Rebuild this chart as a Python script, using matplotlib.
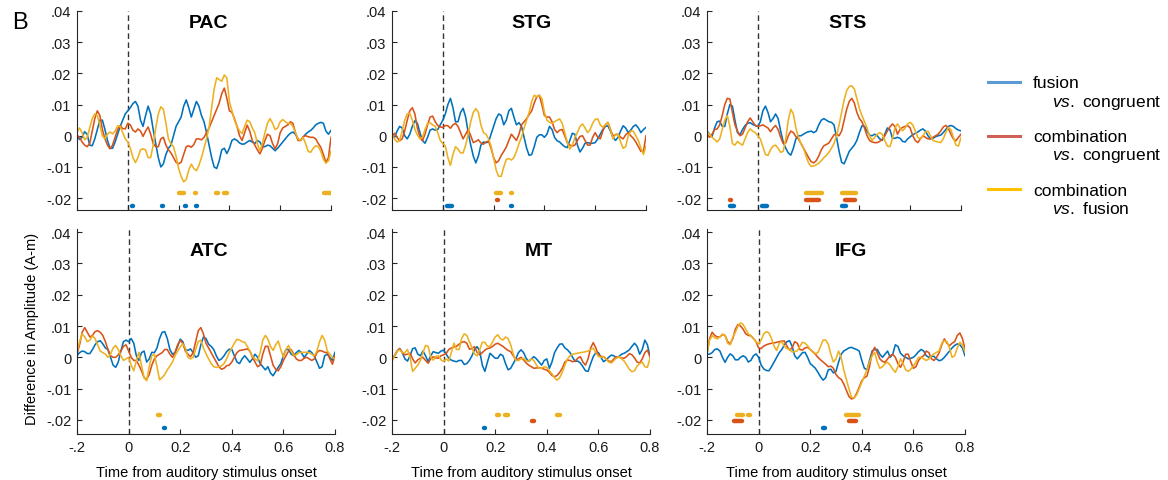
"""
plot.py

Differenze di ampiezza tra condizioni nelle sei ROI (PAC, STG, STS, ATC, MT, IFG).
"""

import numpy as np
import matplotlib

matplotlib.use("Agg")
import matplotlib.pyplot as plt
from matplotlib.legend_handler import HandlerLine2D
from matplotlib.lines import Line2D

plt.rcParams["font.family"] = ["Liberation Sans", "DejaVu Sans"]
plt.rcParams["mathtext.fontset"] = "custom"
plt.rcParams["mathtext.it"] = "Liberation Sans:italic"
plt.rcParams["mathtext.rm"] = "Liberation Sans"

# asse dei tempi: un campione ogni 10 ms, da -0.2 a 0.8 s
time = np.linspace(-0.2, 0.8, 101)
SCALE = 1e-3  # i valori sotto sono in 10^-3 A-m

regions = ["PAC", "STG", "STS", "ATC", "MT", "IFG"]

# --- fusion vs. congruent (blu) ---
pac_fus = [0, -1.2, -0.5, 1.3, 0.5, -3.0, -3.2, -1.0, 2.0, 5.0,
           5.0, 2.0, -1.5, -4.0, -4.0, -2.0, 0.5, 3.0, 5.0, 7.0,
           8.0, 9.0, 10.3, 11.0, 9.5, 5.0, 3.0, 6.5, 9.5, 7.0,
           2.0, -2.5, -7.0, -10.0, -9.0, -6.0, -4.0, -3.0, 0.0, 3.0,
           4.5, 6.0, 9.5, 11.5, 9.0, 6.0, 8.5, 11.0, 9.5, 6.5,
           4.5, 1.0, -3.0, -7.0, -10.0, -10.5, -8.0, -4.5, -4.0, -5.7,
           -4.0, -1.5, -1.0, -1.5, -2.3, -2.7, -2.6, -2.0, -1.5, -2.0,
           -2.5, -1.5, -2.0, -3.5, -3.5, -3.0, -3.2, -4.0, -4.8, -4.0,
           -3.0, -2.0, -1.0, 0.0, 0.8, 1.2, 0.5, -1.0, -1.5, -0.5,
           0.5, 1.2, 1.7, 2.5, 3.5, 4.0, 4.3, 4.0, 1.5, 0.5,
           1.7]
stg_fus = [0, -0.5, 1.5, 3.0, 2.5, 0.0, -1.0, 0.5, 3.0, 4.8,
           4.0, 1.0, -1.5, -2.4, -0.5, 1.8, 2.2, 1.8, 2.0, 3.5,
           5.0, 7.0, 10.0, 12.0, 9.0, 4.5, 4.5, 7.5, 8.8, 6.0,
           1.0, -3.0, -6.5, -8.7, -6.5, -3.0, -2.0, -2.2, -2.0, 0.5,
           3.0, 5.5, 7.0, 6.5, 3.5, 5.0, 8.0, 8.8, 6.0, 3.5,
           4.2, 3.0, -0.5, -4.0, -6.3, -6.0, -3.5, -0.5, 0.3, 0.3,
           -0.5, 0.5, 3.0, 2.0, -0.5, -1.6, -2.0, -2.8, -3.5, -3.8,
           -1.5, 0.8, 0.5, -3.0, -5.2, -4.0, -2.4, -2.2, -2.4, -2.4,
           -2.2, -1.0, 0.5, 2.0, 3.0, 3.2, 1.5, -0.5, -1.5, -0.5,
           1.5, 3.2, 2.5, 1.0, 1.8, 3.0, 3.5, 2.5, 1.0, 2.0,
           2.7]
sts_fus = [1.6, 0.5, -0.2, 2.5, 4.5, 4.7, 3.0, 3.0, 7.0, 10.0,
           9.5, 5.0, 1.0, 0.3, 2.0, 3.3, 4.0, 4.2, 3.6, 3.3,
           3.0, 4.5, 8.0, 9.5, 7.5, 4.5, 5.5, 7.0, 5.5, 1.5,
           -2.0, -4.0, -5.5, -6.2, -4.0, -1.0, 0.0, 0.0, 0.5, 1.0,
           1.3, 1.5, 1.0, 1.5, 3.5, 5.0, 5.5, 5.0, 4.5, 4.3,
           3.5, -0.5, -5.0, -8.5, -9.0, -7.0, -5.0, -4.0, -3.0, -1.5,
           1.0, 3.2, 3.0, 1.5, 0.2, 0.0, 0.5, 0.0, -1.0, -1.5,
           0.5, 2.5, 2.0, -0.8, -0.8, -0.5, -0.8, -1.8, -2.0, -1.0,
           -0.3, 0.3, 0.8, 1.2, 1.8, 2.2, 1.5, 0.0, -1.0, -0.8,
           -0.3, 0.0, 0.2, 1.0, 2.0, 3.0, 3.3, 3.0, 2.3, 1.8,
           1.6]
atc_fus = [0.5, 1.5, 2.0, 1.8, 1.2, 1.2, 2.5, 4.0, 5.0, 5.3,
           4.3, 3.0, 2.5, 0.0, -2.5, -3.2, -1.5, 2.0, 5.0, 5.5,
           5.0, 6.0, 4.5, 0.5, -1.0, 1.5, 2.0, -1.5, -0.5, 1.6,
           1.5, 3.0, 6.0, 8.0, 8.2, 6.0, 2.5, 1.0, 1.5, 3.5,
           5.8, 5.0, 2.5, 2.2, 2.7, 1.5, 0.0, 0.5, 4.0, 6.5,
           6.0, 4.2, 3.5, 2.5, 0.5, -1.0, -0.5, 0.5, 1.8, 2.6,
           2.5, 0.5, -1.5, -2.0, -0.5, 0.5, -0.5, -1.6, -0.5, 1.0,
           0.0, -2.0, -3.0, -4.0, -3.0, -5.0, -5.9, -4.5, -3.2, -2.0,
           0.5, 2.5, 2.5, 1.0, 0.5, 1.5, 2.2, 1.5, 0.0, 1.0,
           2.2, 1.5, 0.3, -1.5, -3.5, -3.0, 0.5, 1.0, 0.0, -1.0,
           1.6]
mt_fus = [-0.3, 0.5, 2.0, 2.8, 1.5, -0.5, -1.2, 0.5, 2.8, 3.0,
          1.0, 0.5, 2.0, 0.5, -1.4, 0.5, 1.8, 1.5, 1.3, 2.0,
          2.3, 1.0, -0.3, -0.9, -1.2, -1.4, -1.0, -1.0, -2.3, -2.0,
          -1.0, 0.5, 2.5, 3.4, 2.0, -2.5, -4.5, -1.5, 1.3, 0.5,
          -0.3, -0.3, 1.0, 0.5, -2.0, -4.0, -3.5, -2.0, -0.5, 1.5,
          2.4, 1.5, -0.3, -1.3, -0.5, 0.2, -0.5, -1.5, -2.5, -1.0,
          -0.5, -3.5, -1.5, 1.5, 3.0, 4.2, 4.3, 3.0, 2.4, 1.5,
          0.0, -1.3, -1.2, -1.8, -3.0, -4.3, -4.5, -2.0, 0.2, 1.5,
          1.5, 0.0, -1.4, -0.8, 0.0, 0.7, 0.5, -0.2, 0.3, 1.0,
          1.3, 1.8, 2.4, 3.5, 4.5, 3.5, 1.0, 2.5, 5.5, 4.0,
          0.2]
ifg_fus = [1.0, 1.0, 1.5, 2.5, 2.7, 2.0, 0.0, -1.6, 0.0, 1.1,
           0.5, -0.8, -0.8, 0.0, 0.5, 0.0, -1.5, -1.0, 0.5, 1.1,
           0.0, -2.5, -3.7, -4.2, -4.3, -3.0, -1.5, 0.0, 1.5, 2.5,
           4.0, 5.0, 5.3, 3.5, 0.5, -0.5, 0.5, 1.5, 1.6, 0.0,
           -2.0, -2.7, -3.5, -4.8, -6.2, -7.3, -6.5, -4.0, -3.8, -5.0,
           -4.5, -1.5, 1.0, 2.0, 2.5, 3.0, 3.2, 2.8, 2.5, 2.0,
           -1.0, -3.5, -4.0, -1.0, 2.0, 2.5, 2.5, 1.0, 0.0, 1.0,
           2.0, 0.0, 1.0, 4.0, 3.5, 1.3, 0.5, 0.0, -0.5, -0.3,
           0.0, 0.8, 1.8, 2.5, 2.0, 0.5, 0.0, 0.3, 0.3, -0.5,
           -1.1, -0.8, 0.0, 1.0, 2.0, 3.0, 3.8, 4.3, 4.0, 3.0,
           0.5]

# --- combination vs. congruent (rosso) ---
pac_comb_cong = [0.2, -0.5, -2.0, -3.0, -3.5, -2.5, 1.5, 5.5, 8.0, 6.5,
                 2.0, -1.0, -3.0, -4.2, -3.0, -0.5, 2.0, 3.3, 2.3, 2.2,
                 4.0, 3.5, 1.8, 1.2, 2.2, 1.5, -0.2, 1.5, 2.8, 0.5,
                 -2.5, -3.5, -3.5, -1.0, -0.5, -3.0, -4.5, -5.5, -7.0, -8.5,
                 -9.0, -8.5, -6.0, -3.5, -3.2, -3.7, -2.8, -1.0, -1.0, -1.3,
                 -0.5, 1.0, 2.5, 4.5, 6.5, 8.5, 10.5, 13.5, 15.3, 12.0,
                 8.0, 7.5, 5.5, 3.0, 0.0, -1.5, 1.0, 3.4, 1.5, -1.5,
                 -3.0, -4.5, -5.8, -4.0, -1.5, 0.5, 0.0, -2.5, -4.2, -2.5,
                 1.0, 2.5, 3.0, 3.5, 4.5, 4.0, 1.0, -1.5, -1.5, -0.3,
                 0.0, -0.3, -0.5, -0.5, -1.0, -2.5, -3.7, -6.0, -8.5, -7.0,
                 -0.5]
stg_comb_cong = [-0.2, 0.8, -0.5, -1.6, -1.0, 1.5, 5.0, 8.0, 9.0, 7.0,
                 2.5, -0.5, -1.6, 0.5, 3.5, 6.0, 6.3, 4.5, 3.3, 2.8,
                 2.7, 3.3, 3.2, 2.4, 3.5, 4.0, 3.0, 1.0, -1.0, 0.5,
                 2.0, 0.0, -2.2, -1.8, -1.3, -2.3, -2.7, -2.0, -1.7, -4.0,
                 -7.0, -8.7, -8.0, -6.3, -5.0, -3.6, -1.5, 0.5, -0.5, -1.5,
                 0.5, 3.5, 4.5, 5.5, 6.8, 8.0, 10.5, 12.5, 13.0, 10.0,
                 6.5, 6.0, 6.0, 4.5, 2.0, 1.0, 1.8, 2.0, 0.0, -2.2,
                 -3.0, -3.3, -3.0, -1.5, -0.2, 0.0, -1.5, -3.0, -3.0, -0.5,
                 1.0, -0.5, -1.0, 1.5, 3.5, 4.3, 2.0, 0.0, 0.3, 0.5,
                 -0.5, -1.0, 0.3, 1.0, 0.0, -0.8, -2.0, -3.5, -5.0, -5.0,
                 0.0]
sts_comb_cong = [0.5, -0.5, 0.5, 2.0, 2.2, 3.5, 6.5, 10.0, 12.0, 11.8,
                 7.5, 3.5, 1.5, 0.0, 0.5, 2.5, 4.5, 5.7, 4.5, 3.3,
                 3.0, 3.2, 3.5, 3.0, 2.5, 1.3, 2.5, 3.3, 2.0, -0.5,
                 -2.5, -2.3, 0.0, 1.5, 1.0, -0.3, -1.0, -2.5, -4.0, -5.5,
                 -7.0, -8.3, -8.7, -8.0, -6.5, -4.5, -3.2, -2.8, -2.3, -1.0,
                 0.3, 0.5, 0.0, 1.5, 5.0, 8.5, 11.0, 12.0, 10.5, 7.5,
                 5.5, 4.5, 2.5, 0.0, -1.5, -2.0, -2.2, -2.2, -1.8, -1.1,
                 0.0, 1.5, 2.8, 3.8, 3.0, 0.5, 2.0, 2.7, 3.0, 3.3,
                 2.5, 0.0, -1.5, -2.2, -1.0, 0.0, -0.5, -1.0, -1.0, -0.5,
                 0.0, 0.5, 1.5, 2.8, 3.3, 2.5, 0.5, -1.0, -1.6, -0.5,
                 0.5]
atc_comb_cong = [1.0, 4.0, 8.0, 9.5, 8.0, 6.5, 7.0, 8.2, 8.5, 8.0,
                 7.0, 5.0, 2.5, 0.5, 0.0, 0.0, 0.8, 2.0, 3.5, 4.0,
                 2.0, 0.0, -1.0, -1.0, -2.5, -4.3, -6.5, -7.0, -5.5, -2.5,
                 -0.5, 0.5, 1.0, 1.5, 2.5, 2.5, 1.0, 0.0, 1.5, 4.0,
                 5.4, 4.5, 2.0, 1.0, 0.2, 1.5, 5.0, 8.5, 9.5, 7.5,
                 4.5, 3.0, 1.5, 0.0, -1.5, -3.0, -3.8, -3.5, -2.7, -2.5,
                 -1.5, 0.0, 1.5, 2.2, 2.3, 2.5, 2.7, 2.0, 0.0, -1.5,
                 -3.0, -2.5, 1.0, 3.5, 3.5, 0.5, -2.5, -3.8, -4.3, -3.0,
                 -1.0, 0.5, 2.0, 2.5, 1.0, -0.5, -1.0, -1.0, -0.3, 0.0,
                 -0.5, -1.0, -0.5, 1.5, 2.2, 2.0, 1.6, 1.5, -0.5, -2.2,
                 0.5]
mt_comb_cong = [-0.9, 0.5, 2.0, 2.8, 1.5, 0.8, 1.0, 1.3, -0.5, -1.8,
                -0.8, -0.3, 0.0, -1.0, -1.9, -0.5, 0.2, -0.2, -0.3, 0.5,
                0.8, 1.2, 2.5, 3.0, 3.3, 3.5, 4.2, 4.8, 5.0, 4.5,
                2.6, 2.8, 3.4, 1.5, 0.8, 1.5, 2.3, 2.8, 3.0, 3.5,
                4.2, 4.5, 4.0, 3.5, 2.8, 2.2, 1.8, 0.5, -0.8, -0.5,
                0.0, -0.8, -1.8, -2.5, -3.0, -3.5, -3.4, -3.3, -3.5, -3.8,
                -4.1, -4.8, -5.8, -6.2, -5.8, -4.8, -3.5, -1.5, -0.9, -1.0,
                -1.4, -1.2, -0.3, 0.2, -1.5, -2.5, -0.5, 3.0, 4.7, 3.0,
                0.8, 0.3, 0.2, -0.5, -1.2, -1.4, -0.5, 0.2, 0.0, -0.2,
                -0.3, 0.3, 1.2, 0.8, -0.2, -1.5, -1.8, -0.5, 1.5, 2.3,
                0.2]
ifg_comb_cong = [1.0, 6.0, 8.0, 7.0, 6.5, 6.5, 7.3, 7.0, 5.0, 4.3,
                 6.0, 9.0, 10.5, 10.0, 9.0, 7.5, 7.0, 6.9, 6.0, 5.0,
                 3.0, 2.8, 3.6, 4.0, 4.3, 4.5, 4.6, 4.8, 5.0, 5.2,
                 5.2, 3.5, 2.3, 3.0, 5.0, 4.5, 2.5, 2.3, 3.0, 3.2,
                 2.5, 1.8, 1.0, 0.0, -0.8, -1.5, -2.2, -3.0, -2.8, -3.5,
                 -5.5, -6.5, -7.0, -8.5, -10.5, -12.5, -13.3, -13.0, -11.5, -9.5,
                 -7.5, -6.5, -6.0, -3.0, 1.5, 3.2, 1.5, -0.5, -1.3, -1.6,
                 -0.5, 0.5, 1.0, 0.0, -2.0, -3.2, -1.5, 1.0, 1.0, -1.5,
                 -3.5, -3.0, -1.0, 0.0, 0.5, 2.0, 1.5, -0.5, -1.0, 0.0,
                 1.5, 4.0, 5.9, 4.5, 3.7, 4.5, 5.0, 7.0, 7.8, 6.0,
                 2.7]

# --- combination vs. fusion (giallo) ---
pac_comb_fus = [1.2, 2.5, 1.0, -1.3, -0.5, 2.5, 5.5, 7.0, 6.5, 3.5,
                0.0, -1.0, 0.5, 1.2, 0.6, 1.5, 3.2, 3.0, 1.0, -1.0,
                -2.0, -4.0, -7.0, -8.6, -7.0, -4.5, -4.2, -4.5, -7.0, -7.0,
                -3.0, 2.5, 7.0, 9.3, 8.5, 4.0, -1.0, -2.6, -3.5, -6.5,
                -10.5, -13.0, -14.8, -14.0, -11.0, -9.1, -10.5, -11.2, -9.5, -7.0,
                -4.0, -1.0, 2.8, 9.0, 15.0, 18.6, 18.0, 17.5, 19.5, 18.5,
                11.0, 8.0, 5.0, 3.0, 1.5, 0.7, 3.0, 5.0, 4.5, 2.5,
                1.0, -2.5, -4.8, -2.5, 1.0, 4.0, 5.5, 4.0, 2.0, 2.5,
                4.5, 5.2, 4.5, 4.0, 4.0, 3.0, 1.0, -1.0, -1.5, -0.5,
                -2.5, -5.0, -5.3, -4.0, -3.2, -3.5, -5.0, -7.5, -8.8, -8.0,
                -5.0]
stg_comb_fus = [0.5, -1.0, -2.0, -1.5, 1.5, 5.0, 7.0, 7.2, 5.0, 2.0,
                0.3, -1.0, -0.5, 2.0, 4.0, 4.2, 3.5, 3.0, 1.0, -1.5,
                -2.5, -3.3, -7.0, -9.5, -6.0, -3.5, -4.3, -5.5, -5.5, -3.0,
                0.5, 4.5, 7.5, 8.7, 7.5, 3.5, 1.0, 0.5, -1.0, -3.3,
                -7.0, -11.0, -13.0, -13.0, -10.0, -7.6, -7.3, -7.8, -7.0, -5.0,
                -2.5, -0.5, 2.5, 5.0, 7.5, 11.0, 13.0, 12.5, 13.0, 12.0,
                7.5, 5.0, 4.3, 4.0, 4.5, 5.0, 5.4, 4.0, 1.0, -2.0,
                -4.3, -3.0, -0.5, 1.0, 3.0, 3.8, 2.5, 1.0, 2.0, 4.0,
                5.3, 5.4, 3.5, 2.7, 3.5, 4.3, 2.0, -1.0, 0.5, 0.5,
                -2.0, -4.0, -3.5, 0.0, 1.5, 1.5, 0.0, -1.5, -4.0, -6.0,
                -3.3]
sts_comb_fus = [1.3, 0.5, -0.5, -1.2, -2.0, -1.0, 2.0, 5.0, 6.5, 3.0,
                -2.5, -3.0, -1.8, -2.5, -3.0, -1.0, 1.0, 2.2, 1.5, 1.0,
                0.0, -1.0, -3.5, -6.0, -6.3, -4.5, -3.3, -3.0, -4.0, -5.3,
                -5.0, -1.0, 5.0, 8.5, 7.0, 2.5, -0.5, -2.5, -4.0, -6.5,
                -8.8, -9.8, -9.7, -9.3, -8.8, -8.0, -7.0, -6.3, -5.3, -4.0,
                -2.5, 0.0, 3.5, 7.5, 11.5, 14.5, 15.8, 16.0, 15.0, 12.0,
                8.7, 6.5, 4.5, 2.5, 0.0, -1.5, -0.5, 0.5, 1.0, 0.5,
                -1.5, -3.3, -3.5, -1.0, 2.5, 3.8, 2.5, 1.6, 2.5, 3.8,
                4.3, 3.5, 1.5, -0.5, -1.0, 0.0, 1.2, 1.5, 0.0, -1.5,
                -1.8, -2.0, -2.2, -1.0, 1.0, 2.7, 2.0, -0.5, -3.0, -3.3,
                -0.5]
atc_comb_fus = [1.6, 5.0, 7.5, 6.5, 5.0, 5.5, 6.8, 6.0, 4.0, 2.0,
                1.5, 1.0, 0.0, 1.0, 3.0, 3.8, 2.5, 0.5, -1.0, -0.5,
                0.0, -2.5, -4.3, -1.0, 1.6, -2.5, -6.5, -7.5, -3.0, 0.5,
                1.0, -3.0, -7.2, -6.5, -5.5, -4.0, -2.8, -1.5, 0.5, 2.0,
                3.3, 4.3, 3.0, 0.0, -0.5, 0.0, 2.5, 5.0, 5.5, 3.0,
                1.2, -0.5, -2.0, -3.0, -3.2, -3.0, -2.7, -2.0, -0.5, 1.5,
                3.0, 4.5, 5.8, 5.5, 5.0, 4.8, 3.5, 2.0, 0.3, -0.5,
                -1.1, 1.5, 5.5, 7.0, 5.8, 3.5, 2.2, 4.0, 5.2, 2.5,
                0.0, 2.5, 3.8, 2.0, 0.5, 0.8, 1.5, 1.6, 1.6, 1.6,
                1.5, 1.0, 0.5, 2.0, 5.0, 7.0, 5.5, 2.0, 1.0, 0.0,
                -0.5]
mt_comb_fus = [-1.4, 0.5, 2.0, 2.4, 1.5, 1.5, 2.5, 0.0, -4.5, -3.5,
               -2.5, -1.0, 1.5, 3.8, 3.5, 0.0, -0.9, 0.3, 0.5, -0.8,
               -1.3, -0.5, -1.2, 1.5, 4.5, 2.5, 2.5, 6.0, 7.5, 7.0,
               5.0, 3.0, 1.0, 0.5, 2.5, 4.8, 4.8, 3.5, 3.5, 5.0,
               6.5, 7.2, 6.0, 5.5, 6.5, 6.0, 4.0, 1.0, -1.0, -1.0,
               -0.5, -0.3, -1.2, -1.2, -0.5, -1.0, -2.5, -3.5, -3.5, -3.0,
               -3.2, -4.3, -5.3, -6.5, -7.3, -6.5, -4.8, -2.5, -0.5, 0.5,
               1.0, 1.2, 1.3, 1.5, 1.6, 1.8, 2.0, 2.5, 2.9, 1.5,
               0.3, 0.0, 0.2, -0.5, -1.5, -1.8, -1.0, -0.2, 0.2, -0.5,
               -1.2, -2.5, -3.8, -4.6, -4.3, -2.8, -2.0, -1.5, -3.0, -3.2,
               -0.3]
ifg_comb_fus = [1.6, 5.5, 6.9, 6.3, 5.9, 6.5, 7.4, 7.0, 4.5, 4.0,
                6.5, 8.0, 10.0, 11.0, 10.5, 9.0, 7.5, 6.9, 6.0, 5.0,
                4.3, 5.5, 7.5, 8.2, 7.8, 6.0, 3.5, 2.2, 4.5, 5.0,
                3.5, 2.8, 2.5, 1.7, 1.8, 2.1, 3.5, 4.8, 4.5, 3.7,
                2.5, 1.6, 1.2, 1.5, 3.5, 5.5, 5.5, 4.2, 1.0, -1.5,
                -0.5, 2.0, 0.0, -4.0, -7.0, -10.0, -12.8, -13.0, -12.0, -10.0,
                -8.0, -6.0, -4.0, -1.5, 0.5, 1.5, -1.5, -3.5, -3.0, -2.0,
                -1.6, -2.5, -3.8, -4.8, -3.0, -0.5, -2.0, -4.0, -4.5, -3.8,
                -2.8, -1.5, 0.0, 0.0, -0.5, -1.0, -0.5, 0.5, 1.1, 1.6,
                2.1, 4.5, 5.3, 5.0, 3.0, 0.0, 0.5, 3.0, 4.8, 4.0,
                1.6]

# intervalli significativi (s): [inizio, fine]
sig_fus = {
    "PAC": [(0.015, 0.020), (0.133, 0.138), (0.227, 0.231), (0.267, 0.271)],
    "STG": [(0.018, 0.038), (0.267, 0.271)],
    "STS": [(-0.110, -0.094), (0.018, 0.037), (0.333, 0.349)],
    "ATC": [(0.139, 0.143)],
    "MT": [(0.156, 0.160)],
    "IFG": [(0.250, 0.258)],
}
sig_comb_cong = {
    "PAC": [],
    "STG": [(0.214, 0.218)],
    "STS": [(-0.111, -0.107), (0.191, 0.241), (0.343, 0.382)],
    "ATC": [],
    "MT": [(0.342, 0.350)],
    "IFG": [(-0.095, -0.063), (0.350, 0.378)],
}
sig_comb_fus = {
    "PAC": [(0.200, 0.223), (0.266, 0.270), (0.348, 0.357), (0.377, 0.390), (0.773, 0.800)],
    "STG": [(0.031, 0.034), (0.208, 0.231), (0.267, 0.271)],
    "STS": [(0.191, 0.251), (0.333, 0.388)],
    "ATC": [(0.114, 0.123)],
    "MT": [(0.078, 0.081), (0.206, 0.214), (0.238, 0.251), (0.438, 0.450)],
    "IFG": [(-0.083, -0.060), (-0.040, -0.032), (0.340, 0.389)],
}
sig_levels = [-0.0185, -0.0205, -0.0225]  # giallo, rosso, blu

curves = {
    "PAC": (pac_fus, pac_comb_cong, pac_comb_fus),
    "STG": (stg_fus, stg_comb_cong, stg_comb_fus),
    "STS": (sts_fus, sts_comb_cong, sts_comb_fus),
    "ATC": (atc_fus, atc_comb_cong, atc_comb_fus),
    "MT": (mt_fus, mt_comb_cong, mt_comb_fus),
    "IFG": (ifg_fus, ifg_comb_cong, ifg_comb_fus),
}

line_colors = ["#0072BD", "#D95319", "#EDB120"]
legend_colors = ["#5B9BD5", "#CF6158", "#FFC000"]
legend_labels = [
    "fusion\n    $\\mathit{vs.}$ congruent",
    "combination\n    $\\mathit{vs.}$ congruent",
    "combination\n    $\\mathit{vs.}$ fusion",
]

yticks = [0.04, 0.03, 0.02, 0.01, 0, -0.01, -0.02]
ytick_labels = [".04", ".03", ".02", ".01", "0", "-.01", "-.02"]
xticks = [-0.2, 0, 0.2, 0.4, 0.6, 0.8]
xtick_labels = ["-.2", "0", "0.2", "0.4", "0.6", "0.8"]

# posizione dei titoli (x in secondi)
title_x = {"PAC": 0.316, "STG": 0.35, "STS": 0.355, "ATC": 0.31, "MT": 0.37, "IFG": 0.356}

W, H = 1168, 481
fig = plt.figure(figsize=(W / 100, H / 100), dpi=100)

lefts = [77, 392, 707]
for i, reg in enumerate(regions):
    row, col = divmod(i, 3)
    if row == 0:
        top, bottom, width, ylim, ty = 12, 211, 254, (-0.0238, 0.04), 0.94
    else:
        top, bottom, width, ylim, ty = 230, 435, 258, (-0.0245, 0.041), 0.895
    ax = fig.add_axes([lefts[col] / W, (H - bottom) / H, width / W, (bottom - top) / H])

    ax.axvline(0, color="#333333", lw=1.0, ls=(0, (4, 2.5)), zorder=1)

    for vals, c in zip(curves[reg], line_colors):
        ax.plot(time, np.array(vals) * SCALE, color=c, lw=1.15, zorder=2)

    for sig, c, lev in zip([sig_comb_fus, sig_comb_cong, sig_fus],
                           [line_colors[2], line_colors[1], line_colors[0]],
                           sig_levels):
        if sig[reg]:
            starts = [s for s, e in sig[reg]]
            ends = [e for s, e in sig[reg]]
            ax.hlines([lev] * len(starts), starts, ends, colors=c, lw=3.2,
                      capstyle="round", zorder=3)

    ax.set_xlim(-0.2, 0.8)
    ax.set_ylim(*ylim)
    ax.set_yticks(yticks)
    ax.set_yticklabels(ytick_labels)
    ax.set_xticks(xticks)
    if row == 1:
        ax.set_xticklabels(xtick_labels)
        ax.set_xlabel("Time from auditory stimulus onset", fontsize=10.5, labelpad=8)
    else:
        ax.set_xticklabels([])

    for side in ["top", "right"]:
        ax.spines[side].set_visible(False)
    for side in ["left", "bottom"]:
        ax.spines[side].set_color("#262626")
        ax.spines[side].set_linewidth(0.8)
    ax.tick_params(direction="in", length=3.5, width=0.8, color="#262626",
                   labelsize=10.5, labelcolor="#1a1a1a", pad=4)

    ax.text(title_x[reg], ty, reg, transform=ax.get_xaxis_transform(),
            ha="center", va="center", fontsize=14, fontweight="bold")

fig.text(32 / W, 1 - 329 / H, "Difference in Amplitude (A-m)", rotation=90,
         ha="center", va="center", fontsize=10.5)
fig.text(12 / W, 1 - 29 / H, "B", fontsize=17, ha="left", va="baseline")


class FirstLineHandler(HandlerLine2D):
    """Allinea il segmento della legenda alla prima riga dell'etichetta."""

    def create_artists(self, legend, orig_handle, xdescent, ydescent,
                       width, height, fontsize, trans):
        return super().create_artists(legend, orig_handle, xdescent,
                                      ydescent - 1.2 * fontsize, width,
                                      height, fontsize, trans)


handles = [Line2D([], [], color=c, lw=2.2) for c in legend_colors]
fig.legend(handles, legend_labels, loc="upper left",
           bbox_to_anchor=(988 / W, 1 - 76 / H), frameon=False,
           fontsize=12.5, handlelength=1.85, handletextpad=0.75,
           labelspacing=1.05, borderpad=0, borderaxespad=0,
           handler_map={Line2D: FirstLineHandler()})

fig.savefig("out.png", dpi=100)
